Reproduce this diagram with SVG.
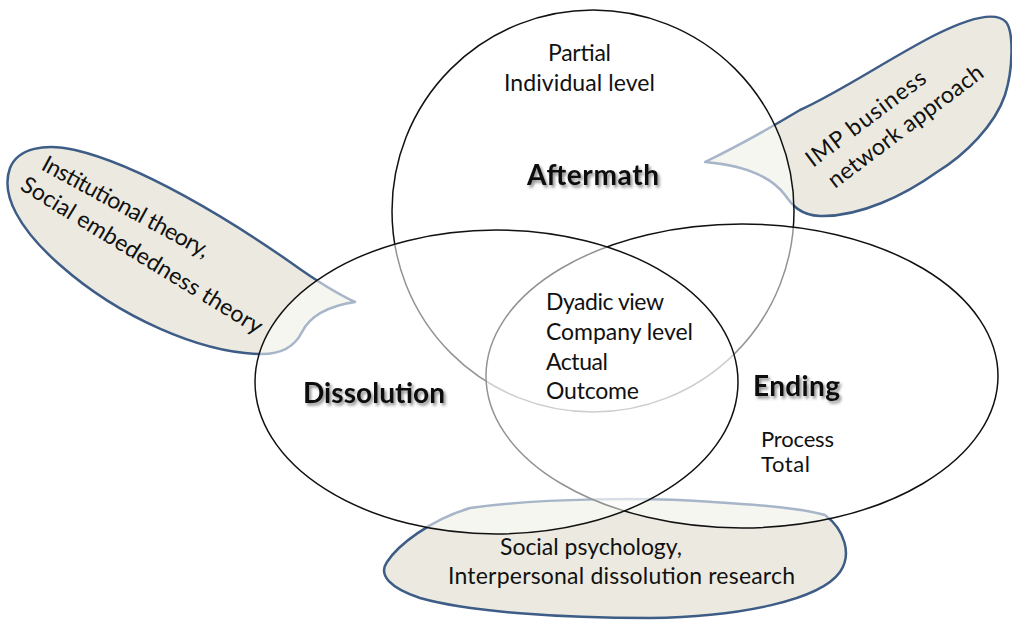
<svg xmlns="http://www.w3.org/2000/svg" width="1012" height="623" viewBox="0 0 1012 623">
<defs>
<filter id="shadow" x="-10%" y="-30%" width="130%" height="170%">
<feDropShadow dx="2" dy="2.5" stdDeviation="1.6" flood-color="#000" flood-opacity="0.45"/>
</filter>
<style>
.bubble{fill:#ECEAE0;stroke:#3D5C86;stroke-width:2.5;stroke-linejoin:round}
.set{fill:#fff;fill-opacity:0.55;stroke:#111;stroke-width:1.5}
.t{font-family:Lato,"Open Sans","Liberation Sans",sans-serif;font-size:23px;fill:#111}
.s{font-size:22px}
.b{font-family:Lato,"Open Sans","Liberation Sans",sans-serif;font-size:28px;font-weight:bold;fill:#111;filter:url(#shadow)}
</style>
</defs>
<rect width="1012" height="623" fill="#fff"/>
<g id="bubble-left">
<path class="bubble" d="M355,302 C335,305 312,312 302,332 C294,348 280,355 258,354 C200,352 120,318 60,265 C20,230 0,195 10,168 C18,148 45,143 75,150 C140,165 230,220 290,262 C315,280 340,295 355,302 Z"/>
<text class="t" transform="translate(40,169) rotate(28.5)" textLength="187">Institutional theory,</text>
<text class="t" transform="translate(19,189) rotate(31.5)" textLength="279">Social embededness theory</text>
</g>
<g id="bubble-right">
<path class="bubble" d="M705,162 C740,145 775,125 800,110 C840,92 890,58 935,35 C965,20 995,10 1006,22 C1014,32 1013,70 1005,95 C995,125 965,155 937,172 C905,195 860,217 820,216 C800,215 792,205 785,195 C770,175 740,165 705,162 Z"/>
<text class="t" transform="translate(813,168) rotate(-37)" textLength="144">IMP business</text>
<text class="t" transform="translate(835,189) rotate(-37)" textLength="188">network approach</text>
</g>
<g id="bubble-bottom">
<path class="bubble" d="M470,508 C540,498 650,497 713,502 C760,505 800,508 825,515 C845,530 852,555 840,572 C820,600 740,617 650,618 C560,618 470,612 420,598 C390,588 378,575 387,562 C398,545 430,520 470,508 Z"/>
</g>
<g id="connectors"></g>
<g id="aftermath">
<circle class="set" cx="593" cy="211" r="201"/>
</g>
<g id="ending">
<ellipse class="set" cx="742" cy="376" rx="256" ry="152"/>
</g>
<g id="dissolution">
<ellipse class="set" cx="496.5" cy="382" rx="241.5" ry="152"/>
</g>
<g id="labels">
<text class="t" x="548" y="61" textLength="63">Partial</text>
<text class="t" x="504" y="91" textLength="151">Individual level</text>
<text class="b" x="527" y="185" textLength="132">Aftermath</text>
<text class="t" x="546" y="310" textLength="118">Dyadic view</text>
<text class="t" x="546" y="340" textLength="147">Company level</text>
<text class="t" x="546" y="370" textLength="62">Actual</text>
<text class="t" x="546" y="399" textLength="93">Outcome</text>
<text class="b" x="303" y="403" textLength="142">Dissolution</text>
<text class="b" x="753" y="396" textLength="87">Ending</text>
<text class="t s" x="761" y="447" textLength="73">Process</text>
<text class="t s" x="761" y="472" textLength="49">Total</text>
<text class="t" x="500" y="555" textLength="182">Social psychology,</text>
<text class="t" x="448" y="584" textLength="347">Interpersonal dissolution research</text>
</g>
</svg>
